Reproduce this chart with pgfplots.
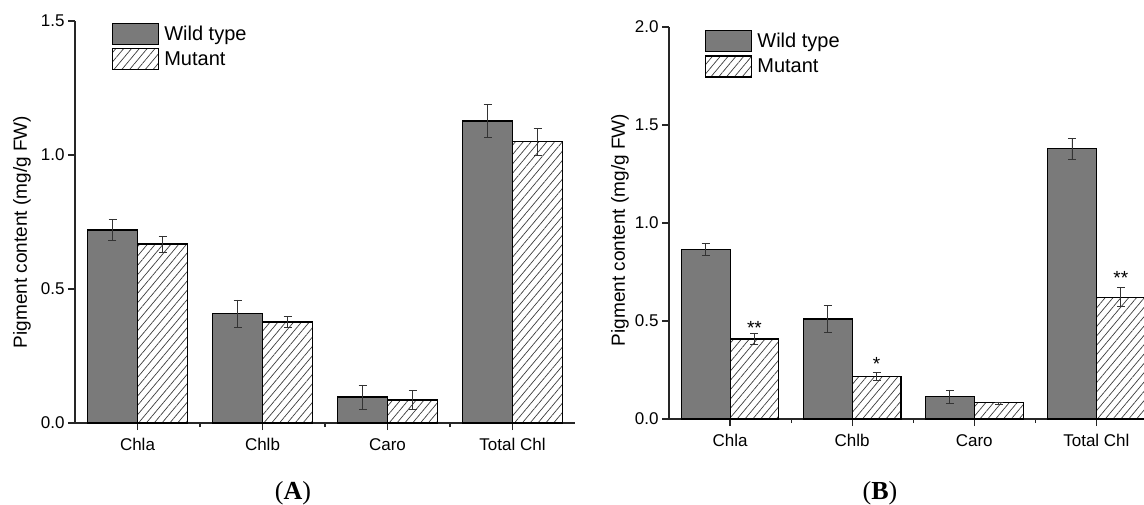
\documentclass[border=0pt]{standalone}
\usepackage{pgfplots}
\pgfplotsset{compat=1.18}
\usepackage{fontspec}
\setmainfont{Liberation Sans}
\newfontfamily\serifb{Liberation Serif}
\usetikzlibrary{patterns.meta}
\definecolor{wt}{RGB}{122,122,122}
\definecolor{hatchc}{RGB}{60,60,60}

\pgfplotsset{
 myaxis/.style={
  scale only axis,
  ybar,
  axis x line=bottom, axis y line=left,
  axis line style={-, line width=1.4pt, black!85},
  xtick={0,1,2,3}, xticklabels={Chla,Chlb,Caro,Total Chl},
  minor xtick={0.5,1.5,2.5},
  tick align=outside,
  major tick length=7pt, minor tick length=4pt,
  every tick/.style={black!85, line width=1.2pt},
  xmin=-0.5, ymin=0,
  tick label style={font=\fontsize{17}{19}\selectfont},
  xticklabel style={yshift=-5pt},
  yticklabel style={/pgf/number format/.cd, fixed, fixed zerofill, precision=1, assume math mode=true},
  ylabel={Pigment content (mg/g FW)},
  ylabel style={font=\fontsize{19}{21}\selectfont, anchor=center},
  legend style={draw=none, fill=none, font=\fontsize{20}{22}\selectfont, inner sep=0pt, anchor=north west, row sep=3pt, column sep=5pt, nodes={inner sep=0pt}},
  legend cell align=left,
  bar width=0.4,
  clip=true,
 },
 wtbar/.style={fill=wt, draw=black, line width=1.1pt, bar shift=-0.2,
   legend image code/.code={\draw[##1, line width=1.1pt] (0pt,-10.5pt) rectangle (46pt,10.5pt);},
   error bars/.cd, y dir=both, y explicit,
   error mark options={rotate=90, mark size=4pt, line width=0.8pt, black!80},
   error bar style={line width=0.8pt, black!80}},
 mubar/.style={draw=black, line width=1.1pt, pattern={Lines[angle=50,distance=6pt,line width=0.7pt]}, pattern color=hatchc, bar shift=0.2,
   legend image code/.code={\draw[##1, line width=1.1pt] (0pt,-10.5pt) rectangle (46pt,10.5pt);},
   error bars/.cd, y dir=both, y explicit,
   error mark options={rotate=90, mark size=4pt, line width=0.8pt, black!80},
   error bar style={line width=0.8pt, black!80}},
}

\begin{document}
\begin{tikzpicture}
\path[use as bounding box] (0,0) rectangle (1144pt,504pt);
\clip (0,0) rectangle (1144pt,504pt);

% Panel A
\begin{axis}[myaxis,
  at={(75pt,81pt)}, anchor=south west,
  width=500pt, height=402pt,
  xmax=3.5, ymax=1.5, ytick={0,0.5,1,1.5},
  ylabel style={at={(axis description cs:-0.106,0.475)}},
  legend style={at={(axis description cs:0.074,0.995)}},
]
\addplot[wtbar] coordinates {(0,0.72) +- (0,0.04) (1,0.407) +- (0,0.052) (2,0.097) +- (0,0.045) (3,1.127) +- (0,0.06)};
\addplot[mubar] coordinates {(0,0.668) +- (0,0.03) (1,0.377) +- (0,0.019) (2,0.086) +- (0,0.034) (3,1.049) +- (0,0.05)};
\legend{Wild type, Mutant}
\end{axis}

% Panel B
\begin{axis}[myaxis,
  at={(669pt,85pt)}, anchor=south west,
  width=475pt, height=392pt,
  xmax=3.39, ymax=2.0, ytick={0,0.5,1,1.5,2},
  ylabel style={at={(axis description cs:-0.103,0.482)}},
  legend style={at={(axis description cs:0.076,0.992)}},
]
\addplot[wtbar] coordinates {(0,0.867) +- (0,0.03) (1,0.51) +- (0,0.068) (2,0.115) +- (0,0.033) (3,1.378) +- (0,0.055)};
\addplot[mubar] coordinates {(0,0.408) +- (0,0.028) (1,0.219) +- (0,0.02) (2,0.082) +- (0,0.005) (3,0.622) +- (0,0.05)};
\legend{Wild type, Mutant}
\node[font=\fontsize{19}{21}\selectfont, anchor=base] at (axis cs:0.2,0.43) {**};
\node[font=\fontsize{19}{21}\selectfont, anchor=base] at (axis cs:1.2,0.25) {*};
\node[font=\fontsize{19}{21}\selectfont, anchor=base] at (axis cs:3.2,0.684) {**};
\end{axis}

\node[font=\serifb\fontsize{26}{28}\selectfont] at (293pt,11pt) {(\textbf{A})};
\node[font=\serifb\fontsize{26}{28}\selectfont] at (880pt,11pt) {(\textbf{B})};
\end{tikzpicture}
\end{document}
